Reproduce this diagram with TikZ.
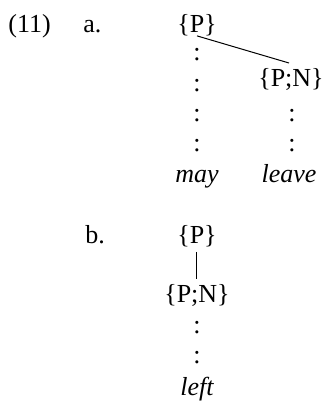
\documentclass[tikz,border=0pt]{standalone}
\usepackage{fontspec}
\setmainfont{Liberation Serif}
\usetikzlibrary{positioning}

\begin{document}
\begin{tikzpicture}[
  x=0.5pt, y=-0.5pt,
  every node/.style={font=\fontsize{13}{15}\selectfont, inner sep=0pt},
  cat/.style={anchor=base},
  word/.style={anchor=base, font=\fontsize{13}{15}\selectfont\itshape},
  num/.style={anchor=base west},
  edge/.style={line width=0.5pt},
]
  \useasboundingbox (0,0) rectangle (325,403);

  % Labels
  \node[num] (ex)  at (8, 32)   {(11)};
  \node[num] (ia)  at (83, 32)  {a.};
  \node[num] (ib)  at (85, 243) {b.};

  % Tree a
  \node[cat]  (pa)    at (197, 32) {\{P\}};
  \node[cat]  (pna)   at (291, 86) {\{P;N\}};
  \node[word] (may)   at (197, 182) {may};
  \node[word] (leave) at (289, 182) {leave};
  \foreach \y [count=\i] in {55,86,116,146}
    \node (ca\i) at (197,\y) {:};
  \foreach \y [count=\i] in {116,146}
    \node (cn\i) at (292,\y) {:};

  % Tree b
  \node[cat]  (pb)   at (197, 243) {\{P\}};
  \node[cat]  (pnb)  at (197, 302) {\{P;N\}};
  \node[word] (left) at (197, 395) {left};
  \foreach \y [count=\i] in {328,358}
    \node (cb\i) at (197,\y) {:};

  % Branches
  \coordinate (pnatop) at (289, 63);
  \draw[edge] (pa.south) -- (pnatop);
  \draw[edge, shorten <=2.5pt, shorten >=2.5pt] (pb.south) -- (pnb.north);
\end{tikzpicture}
\end{document}
